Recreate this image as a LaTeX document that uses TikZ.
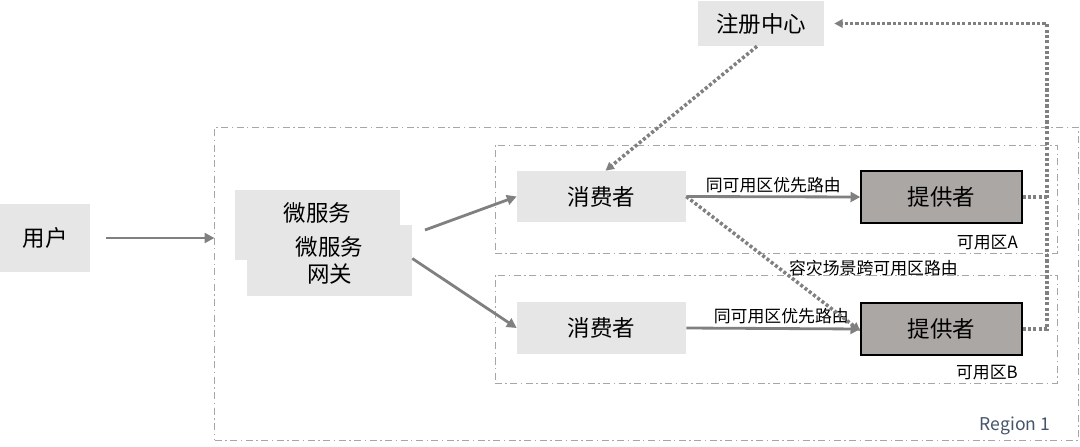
\documentclass[tikz,border=0pt]{standalone}
\usepackage{fontspec}
\setmainfont{Noto Sans CJK SC}
\usetikzlibrary{arrows.meta}

\definecolor{boxgray}{HTML}{E6E6E6}
\definecolor{provgray}{HTML}{ABA7A5}
\definecolor{linegray}{HTML}{808080}
\definecolor{zonegray}{HTML}{A6A6A6}
\definecolor{regionblue}{HTML}{44546A}

\begin{document}
\begin{tikzpicture}[
  x=0.025cm,y=-0.025cm,
  box/.style={fill=boxgray, inner sep=0pt, align=center, font=\fontsize{16pt}{19pt}\selectfont},
  provider/.style={box, fill=provgray, draw=black, line width=0.9pt},
  zone/.style={draw=zonegray, line width=0.6pt, dash pattern=on 5pt off 2.5pt on 1pt off 2.5pt, inner sep=0pt},
  zonelabel/.style={anchor=south east, inner sep=1pt, font=\fontsize{12pt}{14pt}\selectfont},
  flow/.style={-{Triangle[length=7pt,width=7pt]}, draw=linegray, line width=2pt},
  dotflow/.style={draw=linegray, line width=2.5pt, dash pattern=on 2.2pt off 1.6pt},
  note/.style={font=\fontsize{12pt}{14pt}\selectfont, inner sep=2pt}
]

% Canvas: 1080 x 447 px
\path[use as bounding box] (0,0) rectangle (1080,447);

% Regions and availability zones
\node[zone, minimum width=21.575cm, minimum height=7.825cm] (region) at (646.5,283.5) {};
\node[anchor=center, text=regionblue, font=\fontsize{12.5pt}{15pt}\selectfont] (regionlabel) at (1015,426) {Region 1};

\node[zone, minimum width=14.05cm, minimum height=2.7cm] (zoneA) at (776,199) {};
\node[zonelabel] (zoneAlabel) at ([xshift=-0.95cm,yshift=0.05cm]zoneA.south east) {可用区A};

\node[zone, minimum width=14.05cm, minimum height=2.7cm] (zoneB) at (776,329) {};
\node[zonelabel] (zoneBlabel) at ([xshift=-0.95cm,yshift=0.05cm]zoneB.south east) {可用区B};

% Components
\node[box, minimum width=2.25cm, minimum height=1.7cm] (user) at (45,238) {用户};

\node[box, minimum width=4.125cm, minimum height=1.75cm, text depth=0.65cm] (gwback) at (317.5,225) {微服务};
\node[box, minimum width=4.125cm, minimum height=1.775cm] (gw) at (329.5,260.5) {微服务\\网关};

\node[box, minimum width=4.225cm, minimum height=1.275cm] (consA) at (601.5,196.5) {消费者};
\node[box, minimum width=4.225cm, minimum height=1.3cm] (consB) at (601.5,328) {消费者};

\node[provider, minimum width=4.025cm, minimum height=1.3cm] (provA) at (941.5,197) {提供者};
\node[provider, minimum width=4.025cm, minimum height=1.3cm] (provB) at (941.5,329) {提供者};

\node[box, minimum width=3.15cm, minimum height=1.125cm] (registry) at (761,23.5) {注册中心};

% Request path
\coordinate (gwin) at (region.west |- user.east);
\coordinate (gwoutA) at (425,230);
\draw[flow] ([xshift=0.4cm]user.east) -- (gwin);
\draw[flow] (gwoutA) -- (consA.west);
\draw[flow] ([yshift=0.05cm]gw.east) -- (consB.west);

% Routing inside and across zones
\draw[flow] (consA.east) -- node[note, above] {同可用区优先路由} (provA.west);
\draw[flow] (consB.east) -- node[note, above, xshift=0.2cm] {同可用区优先路由} (provB.west);
\draw[dotflow, -{Triangle[length=6pt,width=6pt]}] (consA.east) --
  node[note, pos=0.53, anchor=west, xshift=0.15cm] {容灾场景跨可用区路由} ([yshift=-0.05cm]provB.west);

% Registry
\draw[dotflow, -{Triangle[length=6pt,width=6pt]}] ([xshift=-0.1cm]registry.south) -- ([xshift=0.1cm]consA.north);
\coordinate (busA) at (1047,197);
\coordinate (busB) at (1047,329);
\coordinate (busTop) at (1047,23.5);
\draw[dotflow] (provA.east) -- (busA);
\draw[dotflow, -{Triangle[length=6pt,width=6pt]}] (provB.east) -- (busB) -- (busTop) -- ([xshift=0.25cm]registry.east);

\end{tikzpicture}
\end{document}
